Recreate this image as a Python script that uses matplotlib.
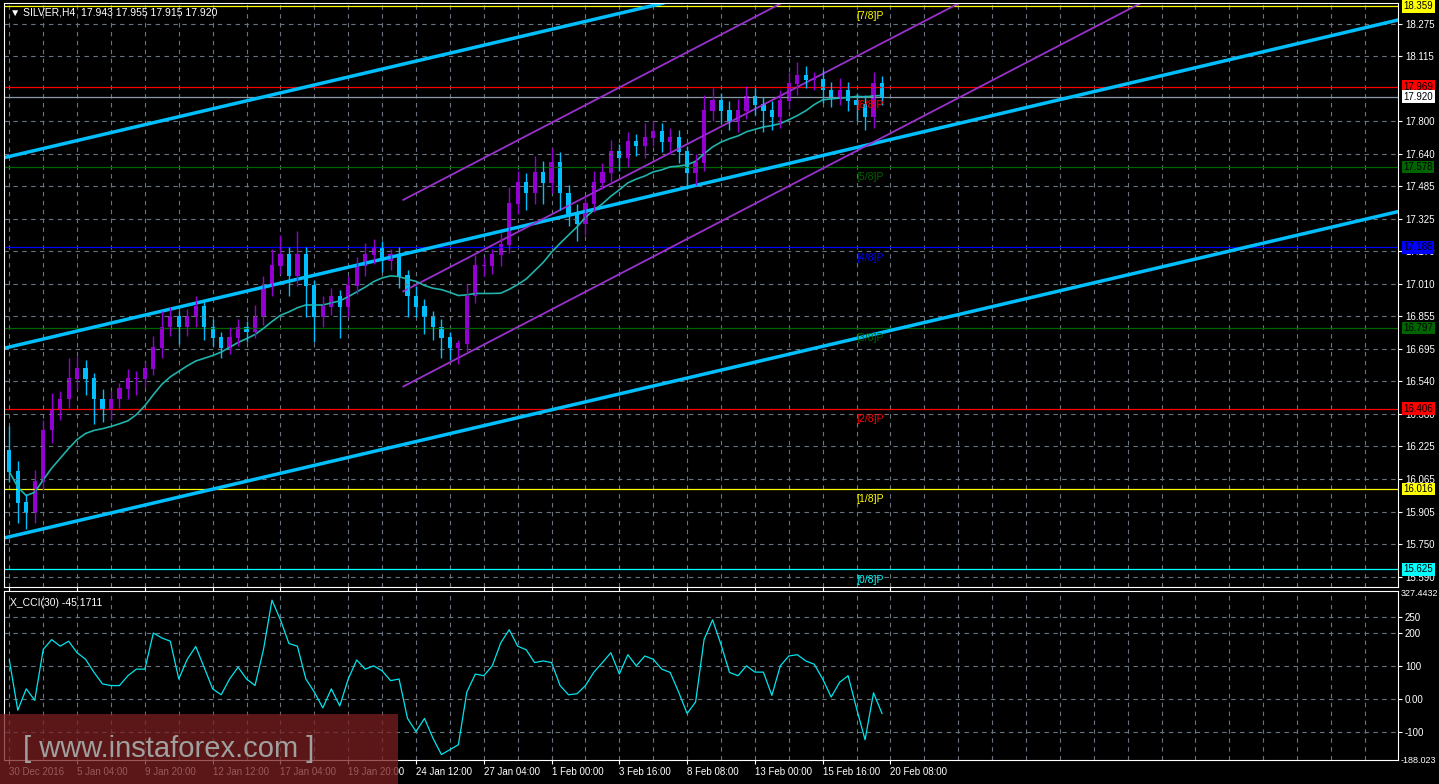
import matplotlib.pyplot as plt
import matplotlib.transforms as mtransforms
import numpy as np
import pandas as pd

plt.rcParams['font.family'] = ['Liberation Sans', 'DejaVu Sans']

closes = [16.10, 15.95, 15.90, 16.05, 16.30, 16.40, 16.45, 16.55, 16.60, 16.55,
          16.45, 16.40, 16.45, 16.50, 16.55, 16.55, 16.60, 16.70, 16.80, 16.85,
          16.80, 16.85, 16.90, 16.80, 16.75, 16.70, 16.75, 16.80, 16.78, 16.85,
          17.00, 17.10, 17.15, 17.05, 17.15, 17.00, 16.85, 16.90, 16.95, 16.90,
          17.00, 17.10, 17.15, 17.18, 17.12, 17.15, 17.05, 16.95, 16.90, 16.85,
          16.80, 16.75, 16.70, 16.72, 16.95, 17.10, 17.10, 17.15, 17.20, 17.40,
          17.50, 17.45, 17.55, 17.50, 17.60, 17.45, 17.35, 17.30, 17.40, 17.50,
          17.55, 17.65, 17.62, 17.70, 17.68, 17.72, 17.75, 17.70, 17.72, 17.65,
          17.55, 17.60, 17.85, 17.90, 17.85, 17.80, 17.85, 17.92, 17.88, 17.85,
          17.82, 17.90, 17.98, 18.02, 18.00, 18.00, 17.95, 17.92, 17.95, 17.90,
          17.88, 17.82, 17.98, 17.92]
first_open = 16.20
wick_hi = [0.12, 0.05, 0.04, 0.06, 0.05, 0.08, 0.04, 0.10, 0.06, 0.04,
           0.03, 0.05, 0.04, 0.03, 0.05, 0.04, 0.03, 0.06, 0.08, 0.05,
           0.03, 0.04, 0.05, 0.03, 0.04, 0.03, 0.05, 0.04, 0.03, 0.06,
           0.05, 0.08, 0.10, 0.04, 0.12, 0.04, 0.03, 0.05, 0.04, 0.03,
           0.05, 0.04, 0.06, 0.05, 0.04, 0.03, 0.04, 0.03, 0.05, 0.04,
           0.03, 0.04, 0.03, 0.02, 0.06, 0.05, 0.04, 0.03, 0.06, 0.08,
           0.06, 0.05, 0.08, 0.06, 0.07, 0.05, 0.04, 0.05, 0.04, 0.06,
           0.05, 0.06, 0.04, 0.05, 0.04, 0.07, 0.05, 0.04, 0.05, 0.04,
           0.03, 0.04, 0.08, 0.06, 0.04, 0.05, 0.06, 0.05, 0.04, 0.04,
           0.05, 0.05, 0.06, 0.07, 0.05, 0.04, 0.05, 0.04, 0.06, 0.04,
           0.04, 0.05, 0.06, 0.04]
wick_lo = [0.05, 0.10, 0.08, 0.05, 0.04, 0.06, 0.05, 0.04, 0.05, 0.08,
           0.12, 0.06, 0.05, 0.04, 0.05, 0.08, 0.04, 0.03, 0.05, 0.04,
           0.08, 0.04, 0.05, 0.06, 0.04, 0.05, 0.03, 0.04, 0.05, 0.03,
           0.04, 0.05, 0.04, 0.10, 0.05, 0.15, 0.12, 0.05, 0.04, 0.15,
           0.05, 0.04, 0.05, 0.04, 0.05, 0.04, 0.06, 0.10, 0.05, 0.08,
           0.06, 0.10, 0.06, 0.08, 0.04, 0.03, 0.05, 0.04, 0.05, 0.04,
           0.05, 0.08, 0.05, 0.10, 0.05, 0.08, 0.06, 0.08, 0.05, 0.04,
           0.03, 0.05, 0.06, 0.04, 0.05, 0.06, 0.04, 0.05, 0.06, 0.05,
           0.08, 0.06, 0.04, 0.05, 0.06, 0.04, 0.05, 0.04, 0.05, 0.10,
           0.06, 0.05, 0.04, 0.05, 0.04, 0.05, 0.06, 0.05, 0.04, 0.05,
           0.08, 0.06, 0.05, 0.04]
cci = [118, -35, 30, -5, 150, 180, 160, 175, 140, 120,
       80, 45, 40, 40, 70, 90, 90, 200, 185, 175,
       60, 120, 159, 95, 30, 12, 60, 96, 60, 40,
       150, 300, 240, 168, 160, 60, 20, -28, 30, -22,
       60, 118, 90, 100, 85, 55, 60, -60, -100, -60,
       -120, -170, -155, -140, 20, 75, 70, 100, 170, 210,
       160, 149, 110, 115, 110, 40, 12, 15, 40, 81,
       110, 140, 75, 134, 100, 130, 120, 90, 80, 20,
       -45, -10, 180, 240, 165, 80, 70, 100, 81, 81,
       10, 100, 130, 134, 115, 105, 60, 5, 50, 70,
       -30, -125, 18, -45]

date_labels = ['30 Dec 2016', '5 Jan 04:00', '9 Jan 20:00', '12 Jan 12:00', '17 Jan 04:00',
               '19 Jan 20:00', '24 Jan 12:00', '27 Jan 04:00', '1 Feb 00:00', '3 Feb 16:00',
               '8 Feb 08:00', '13 Feb 00:00', '15 Feb 16:00', '20 Feb 08:00']

murrey_levels = [18.359, 17.578, 17.188, 16.797, 16.406, 16.016, 15.625]
murrey_names = ['[7/8]P', '[5/8]P', '[4/8]P', '[3/8]P', '[2/8]P', '[1/8]P', '[0/8]P']
murrey_colors = ['#ffff00', '#006400', '#0000ff', '#006400', '#ff0000', '#ffff00', '#00ffff']

price_ticks = [18.275, 18.115, 17.800, 17.640, 17.485, 17.325, 17.170, 17.010, 16.855,
               16.695, 16.540, 16.380, 16.225, 16.065, 15.905, 15.750, 15.590]

# trend lines as (bar, price) pairs
blue_lines = [((-0.59, 17.624), (77.1, 18.373)),
              ((-0.59, 16.699), (163.9, 18.292)),
              ((-0.59, 15.778), (163.9, 17.362))]
purple_lines = [((46.5, 17.419), (91.1, 18.373)),
                ((46.5, 16.975), (112.3, 18.378)),
                ((46.5, 16.513), (133.5, 18.373))]

bg = 'black'
fig = plt.figure(figsize=(14.39, 7.84), dpi=100, facecolor=bg)
ax = fig.add_axes([0.003, 0.2513, 0.9685, 0.745], facecolor=bg)
ax2 = fig.add_axes([0.003, 0.030, 0.9685, 0.216], facecolor=bg)

n = len(closes)
x = np.arange(n)
opens = [first_open] + closes[:-1]
highs = [max(o, c) + w for o, c, w in zip(opens, closes, wick_hi)]
lows = [min(o, c) - w for o, c, w in zip(opens, closes, wick_lo)]
up = [c >= o for o, c in zip(opens, closes)]
cols = ['#9400d3' if u else '#00bfff' for u in up]

xmin, xmax = -0.59, 163.9
for a in (ax, ax2):
    a.set_xlim(xmin, xmax)
    for s in a.spines.values():
        s.set_color('white')
    a.set_xticks(np.arange(0, 14) * 8)
    a.set_xticks(np.arange(0, 164, 4), minor=True)
    a.grid(True, which='both', axis='x', color='#6a7480', ls=(0, (4, 4)), lw=0.8)
    a.yaxis.tick_right()
    a.tick_params(colors='white', labelsize=7, length=3, pad=2)
    a.tick_params(which='minor', length=0)

ax.set_ylim(15.54, 18.375)
ax.set_yticks(price_ticks)
ax.set_yticklabels(['%.3f' % p for p in price_ticks])
ax.grid(True, axis='y', color='#6a7480', ls=(0, (4, 4)), lw=0.8)
ax.tick_params(axis='x', labelbottom=False)

# levels
for lvl, name, c in zip(murrey_levels, murrey_names, murrey_colors):
    ax.axhline(lvl, color=c, lw=0.9)
    ax.text(100.0, lvl - 0.025, name, color=c, fontsize=7.5, va='top', ha='left')
ax.axhline(17.969, color='#ff0000', lw=0.9)
ax.axhline(17.920, color='#8a98a8', lw=0.9)
ax.text(100.0, 17.905, '[6/8]P', color='#ff0000', fontsize=7.5, va='top')

for (x0, y0), (x1, y1) in blue_lines:
    ax.plot([x0, x1], [y0, y1], color='#00bfff', lw=2.5)
for (x0, y0), (x1, y1) in purple_lines:
    ax.plot([x0, x1], [y0, y1], color='#9932cc', lw=1.3)

ma = pd.Series(closes).rolling(15, min_periods=1).mean()
ax.plot(x, ma, color='#20b2aa', lw=1.2)

ax.vlines(x, lows, highs, colors=cols, lw=1)
ax.bar(x, [abs(c - o) + 0.004 for o, c in zip(opens, closes)],
       bottom=[min(o, c) for o, c in zip(opens, closes)], width=0.5, color=cols, lw=0)

# right price labels
tr = mtransforms.blended_transform_factory(ax.transAxes, ax.transData)
boxes = [(18.359, '#ffff00'), (17.969, '#ff0000'), (17.920, 'white'),
         (17.578, '#006400'), (17.188, '#0000ff'), (16.797, '#006400'),
         (16.406, '#ff0000'), (16.016, '#ffff00'), (15.625, '#00ffff')]
for p, fc in boxes:
    ax.text(1.004, p, '%.3f' % p, transform=tr, fontsize=7, color='black', va='center', ha='left',
            bbox=dict(facecolor=fc, edgecolor='none', pad=1.0), clip_on=False, zorder=10)

ax.text(0.004, 0.992, '▼ SILVER,H4  17.943 17.955 17.915 17.920', transform=ax.transAxes,
        color='white', fontsize=7.5, va='top')

# CCI
ax2.plot(x, cci, color='#00e5ee', lw=0.9)
ax2.set_ylim(-188.023, 327.4432)
ax2.set_yticks([250, 200, 100, 0, -100])
ax2.set_yticklabels(['250', '200', '100', '0.00', '-100'])
ax2.grid(True, axis='y', color='#6a7480', ls=(0, (4, 4)), lw=0.8)
ax2.text(1.002, 0.985, '327.4432', transform=ax2.transAxes, color='white', fontsize=6.5, va='center')
ax2.text(1.002, 0.0, '-188.023', transform=ax2.transAxes, color='white', fontsize=6.5, va='center')
ax2.text(0.004, 0.96, 'X_CCI(30) -45.1711', transform=ax2.transAxes, color='white', fontsize=7.5, va='top')
ax2.set_xticklabels(date_labels, ha='left')
ax2.tick_params(axis='x', labelsize=7, pad=2)

# watermark
fig.patches.append(plt.Rectangle((0, 0), 398 / 1439, 70 / 784, transform=fig.transFigure,
                                 facecolor='#7a2020', alpha=0.75, edgecolor='none', zorder=5))
fig.text(0.016, 0.045, '[ www.instaforex.com ]', color='#a0a0a0', fontsize=21, va='center',
         zorder=6)

fig.savefig('out.png', dpi=100, facecolor=bg)
